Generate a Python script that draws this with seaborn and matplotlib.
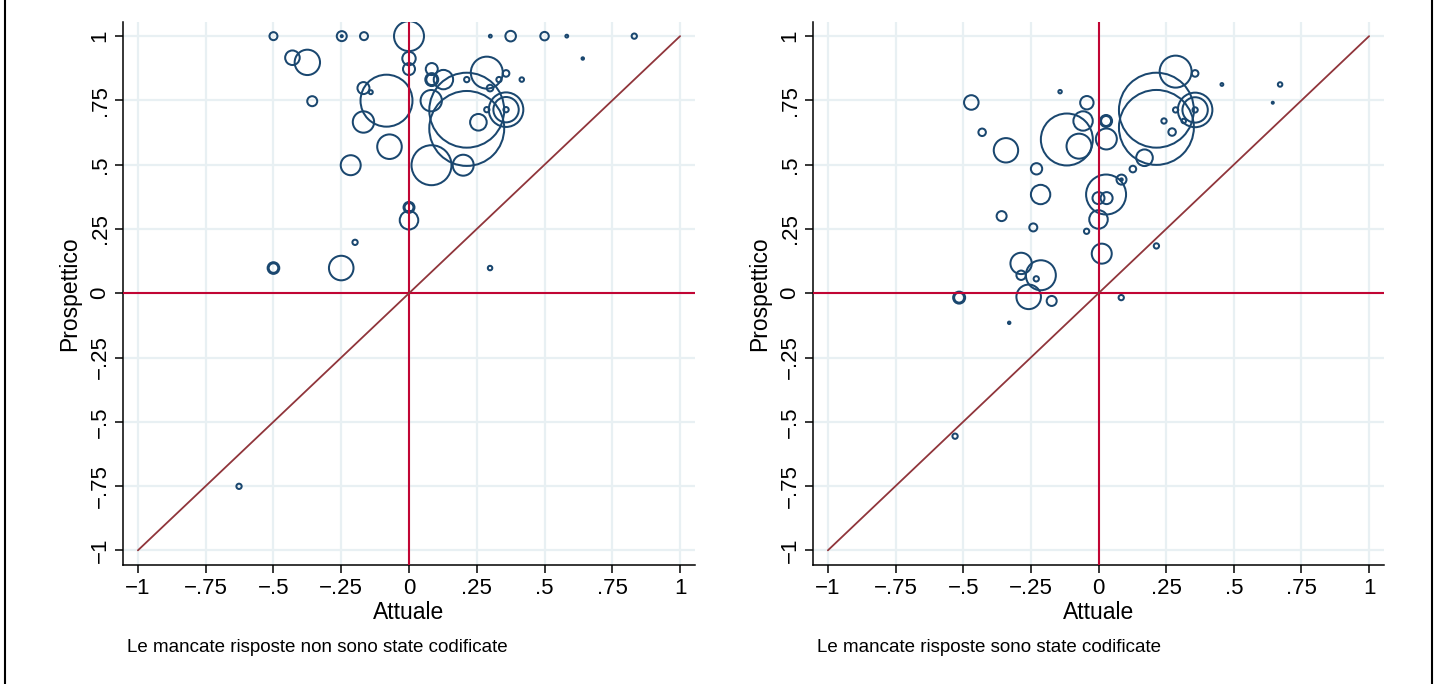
import matplotlib
matplotlib.use("Agg")
import matplotlib.pyplot as plt
from matplotlib.patches import Rectangle
import seaborn as sns
import pandas as pd

# pannello sinistro: mancate risposte non codificate
att_sx = [-0.50, -0.248, -0.248, -0.166, 0.0, 0.30, 0.375, 0.50, 0.582, 0.831,
          0.641, -0.43, -0.375, 0.0, 0.0, 0.084, 0.127, 0.084, 0.084, 0.287,
          0.358, 0.213, 0.332, 0.416, 0.299, -0.083, -0.168, -0.141, -0.357, 0.082,
          0.213, 0.213, 0.256, 0.358, 0.358, 0.358, 0.287, -0.168, -0.072, -0.215,
          0.083, 0.20, 0.0, 0.0, 0.0, -0.199, -0.50, -0.50, -0.25, 0.299, -0.627]
pro_sx = [1.0, 1.0, 1.0, 1.0, 1.0, 1.0, 1.0, 1.0, 1.0, 1.0,
          0.913, 0.916, 0.898, 0.913, 0.872, 0.872, 0.831, 0.831, 0.831, 0.858,
          0.855, 0.831, 0.831, 0.831, 0.798, 0.749, 0.798, 0.782, 0.747, 0.749,
          0.712, 0.641, 0.665, 0.714, 0.714, 0.714, 0.714, 0.666, 0.570, 0.498,
          0.498, 0.498, 0.334, 0.334, 0.284, 0.198, 0.098, 0.098, 0.098, 0.098, -0.751]
peso_sx = [16, 25, 1, 16, 225, 2, 28, 18, 2, 7,
           1.5, 53, 161, 45, 36, 36, 94, 30, 42, 256,
           11, 7, 7, 5, 11, 676, 36, 4, 25, 114,
           1406, 1406, 69, 299, 161, 7, 7, 114, 151, 100,
           400, 110, 20, 30, 86, 7, 23, 34, 151, 5, 7]

# pannello destro: mancate risposte codificate
att_dx = [0.285, 0.357, 0.456, 0.671, 0.644, -0.142, -0.47, -0.043, -0.43, -0.342,
          -0.117, -0.057, -0.072, 0.028, 0.028, 0.029, 0.214, 0.214, 0.357, 0.357,
          0.357, 0.285, 0.242, 0.315, 0.272, 0.170, 0.127, 0.085, 0.085, 0.028,
          0.0, 0.03, -0.229, -0.214, -0.358, 0.0, -0.241, -0.044, 0.012, 0.214,
          -0.286, -0.286, -0.213, -0.230, -0.258, -0.173, -0.515, -0.515, 0.084, -0.33, -0.53]
pro_dx = [0.862, 0.855, 0.812, 0.812, 0.741, 0.784, 0.742, 0.741, 0.626, 0.556,
          0.598, 0.670, 0.572, 0.670, 0.670, 0.600, 0.712, 0.645, 0.713, 0.713,
          0.713, 0.713, 0.670, 0.670, 0.627, 0.527, 0.483, 0.442, 0.442, 0.384,
          0.370, 0.370, 0.484, 0.384, 0.30, 0.287, 0.256, 0.241, 0.154, 0.184,
          0.116, 0.070, 0.070, 0.056, -0.014, -0.030, -0.017, -0.017, -0.017, -0.115, -0.556]
peso_dx = [256, 11, 2, 5, 1, 3, 53, 45, 14, 149,
           676, 94, 156, 25, 36, 110, 1406, 1406, 299, 161,
           7, 7, 7, 5, 14, 69, 11, 25, 1.5, 400,
           36, 36, 32, 94, 25, 86, 16, 7, 100, 7,
           114, 22, 225, 7, 151, 25, 25, 36, 7, 1.5, 7]

tick_val = [-1, -0.75, -0.5, -0.25, 0, 0.25, 0.5, 0.75, 1]
tick_lab = ["\u22121", "\u2212.75", "\u2212.5", "\u2212.25", "0", ".25", ".5", ".75", "1"]

note = ["Le mancate risposte non sono state codificate",
        "Le mancate risposte sono state codificate"]

NAVY = "#1a476f"
ROSSO = "#c10534"
MARRONE = "#90353b"
GRIGLIA = "#e8f0f3"

sns.set_theme(style="white")
plt.rcParams["font.family"] = ["Liberation Sans", "DejaVu Sans"]
plt.rcParams["text.color"] = "black"
plt.rcParams["axes.labelcolor"] = "black"
plt.rcParams["xtick.color"] = "black"
plt.rcParams["ytick.color"] = "black"

fig = plt.figure(figsize=(14.4, 6.84), dpi=100)
ax1 = fig.add_axes([123 / 1440, 1 - 565 / 684, 572 / 1440, 543 / 684])
ax2 = fig.add_axes([813 / 1440, 1 - 565 / 684, 571 / 1440, 543 / 684])

pannelli = [(ax1, att_sx, pro_sx, peso_sx), (ax2, att_dx, pro_dx, peso_dx)]
for i, (ax, att, pro, peso) in enumerate(pannelli):
    df = pd.DataFrame({"Attuale": att, "Prospettico": pro, "peso": peso})
    sns.scatterplot(data=df, x="Attuale", y="Prospettico", size="peso",
                    sizes=(0, 2.07 * 1500), size_norm=(0, 1500),
                    color=NAVY, edgecolor=NAVY, linewidth=1.45,
                    legend=False, ax=ax, zorder=3)
    ax.collections[-1].set_facecolor("none")

    ax.axvline(0, color=ROSSO, lw=1.5, zorder=4)
    ax.axhline(0, color=ROSSO, lw=1.5, zorder=4)
    ax.plot([-1, 1], [-1, 1], color=MARRONE, lw=1.3, zorder=4)

    ax.set_xlim(-1.055, 1.055)
    ax.set_ylim(-1.057, 1.055)
    ax.set_xticks(tick_val)
    ax.set_xticklabels(tick_lab, fontsize=16)
    ax.set_yticks(tick_val)
    ax.set_yticklabels(tick_lab, fontsize=16, rotation=90, va="center")
    ax.grid(True, color=GRIGLIA, lw=1.6, zorder=0)
    ax.set_axisbelow(True)
    ax.tick_params(axis="both", length=6, width=1.1, color="black",
                   labelcolor="black", direction="out", pad=3,
                   left=True, bottom=True)
    for lato in ["top", "right"]:
        ax.spines[lato].set_visible(False)
    for lato in ["left", "bottom"]:
        ax.spines[lato].set_color("black")
        ax.spines[lato].set_linewidth(1.1)
    ax.set_xlabel("Attuale", fontsize=16.5, labelpad=2, color="black")
    ax.set_ylabel("Prospettico", fontsize=16.5, labelpad=6, color="black")

    x0 = ax.get_position().x0
    fig.text(x0 + 4 / 1440, 1 - 648 / 684, note[i], fontsize=13.5,
             va="center", ha="left", color="black")

fig.add_artist(Rectangle((5 / 1440, -0.02), 1427 / 1440, 1.04,
                         transform=fig.transFigure, fill=False,
                         lw=1.5, ec="black"))

fig.savefig("out.png", dpi=100)
plt.close(fig)
